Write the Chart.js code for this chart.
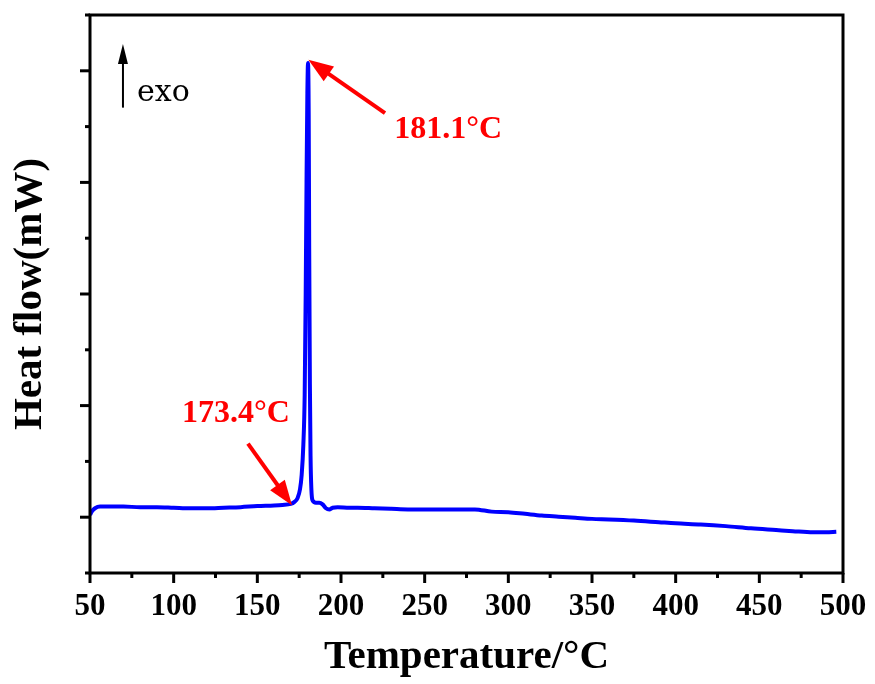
<!DOCTYPE html>
<html>
<head>
<meta charset="utf-8">
<script src="https://cdn.jsdelivr.net/npm/chart.js@4.4.1/dist/chart.umd.min.js"></script>
<style>
  html, body { margin: 0; padding: 0; background: #fff; }
  #wrap { width: 875px; height: 684px; }
</style>
</head>
<body>
<div id="wrap"><canvas id="c" width="875" height="684"></canvas></div>
<script>
// ---- Data ----
const temperature = [50, 51, 53, 56, 60, 70, 80, 90, 100, 110, 120, 130, 140, 150, 160, 165, 170, 172, 174, 175.5, 176.5, 177.5, 178.3, 178.9, 179.4, 179.9, 180.3, 180.7, 181.0, 181.4, 181.8, 182.3, 183, 185, 187, 189, 191, 193, 195, 198, 205, 210, 220, 230, 240, 250, 260, 270, 280, 290, 300, 310, 320, 330, 340, 350, 360, 375, 390, 400, 415, 430, 445, 460, 470, 482, 490, 496];
const heatFlow = [0.02, 0.05, 0.08, 0.095, 0.095, 0.095, 0.09, 0.09, 0.085, 0.08, 0.08, 0.085, 0.09, 0.10, 0.105, 0.11, 0.12, 0.135, 0.17, 0.25, 0.38, 0.65, 1.1, 2.0, 3.0, 3.8, 4.07, 3.6, 2.4, 1.2, 0.55, 0.25, 0.15, 0.13, 0.13, 0.115, 0.08, 0.07, 0.085, 0.09, 0.085, 0.085, 0.08, 0.075, 0.07, 0.07, 0.07, 0.07, 0.07, 0.05, 0.045, 0.03, 0.015, 0.005, -0.005, -0.015, -0.02, -0.03, -0.045, -0.055, -0.065, -0.08, -0.10, -0.115, -0.125, -0.135, -0.135, -0.13];

const xTickMin = 50, xTickMax = 500, xMajorStep = 50, xMinorStep = 25;
const yMin = -0.5, yMax = 4.5, yMinorStep = 0.5;

// annotations: [tailX, tailY, tipX, tipY] in data units, plus labels
const peakArrow = [226.3, 3.62, 180.5, 4.10];
const peakLabel = { text: '181.1°C', x: 231.8, y: 3.40 };
const onsetArrow = [144.4, 0.66, 170.7, 0.107];
const onsetLabel = { text: '173.4°C', x: 105, y: 0.85 };
const exoArrow = [69.7, 3.67, 69.7, 4.24];
const exoLabel = { text: 'exo', x: 78.1, y: 3.73 };

const points = temperature.map((t, i) => ({ x: t, y: heatFlow[i] }));

function drawArrow(ctx, x1, y1, x2, y2, color, lw, headLen, headHalf) {
  const ang = Math.atan2(y2 - y1, x2 - x1);
  const bx = x2 - headLen * Math.cos(ang), by = y2 - headLen * Math.sin(ang);
  ctx.strokeStyle = color; ctx.fillStyle = color; ctx.lineWidth = lw;
  ctx.beginPath(); ctx.moveTo(x1, y1); ctx.lineTo(bx + 2 * Math.cos(ang), by + 2 * Math.sin(ang)); ctx.stroke();
  ctx.beginPath();
  ctx.moveTo(x2, y2);
  ctx.lineTo(bx + headHalf * Math.sin(ang), by - headHalf * Math.cos(ang));
  ctx.lineTo(bx - headHalf * Math.sin(ang), by + headHalf * Math.cos(ang));
  ctx.closePath(); ctx.fill();
}

const framePlugin = {
  id: 'frameTicks',
  afterDraw(chart) {
    const { ctx, chartArea: a, scales: { x, y } } = chart;
    ctx.save();
    ctx.strokeStyle = '#000';
    ctx.lineWidth = 3;
    ctx.strokeRect(a.left, a.top, a.right - a.left, a.bottom - a.top);
    ctx.lineWidth = 3;
    x.ticks.forEach(t => {
      const px = x.getPixelForValue(t.value);
      const len = (Math.abs(t.value % xMajorStep) < 1e-6) ? 10 : 5;
      ctx.beginPath(); ctx.moveTo(px, a.bottom); ctx.lineTo(px, a.bottom + len); ctx.stroke();
    });
    y.ticks.forEach(t => {
      const py = y.getPixelForValue(t.value);
      const len = (Math.abs(t.value - Math.round(t.value)) < 1e-6) ? 10 : 5;
      ctx.beginPath(); ctx.moveTo(a.left - len, py); ctx.lineTo(a.left, py); ctx.stroke();
    });
    // annotations
    const P = (dx, dy) => [x.getPixelForValue(dx), y.getPixelForValue(dy)];
    let [t1x, t1y] = P(peakArrow[0], peakArrow[1]);
    let [h1x, h1y] = P(peakArrow[2], peakArrow[3]);
    drawArrow(ctx, t1x, t1y, h1x, h1y, '#FF0000', 4, 25, 9);
    let [t2x, t2y] = P(onsetArrow[0], onsetArrow[1]);
    let [h2x, h2y] = P(onsetArrow[2], onsetArrow[3]);
    drawArrow(ctx, t2x, t2y, h2x, h2y, '#FF0000', 4, 25, 9);
    let [t3x, t3y] = P(exoArrow[0], exoArrow[1]);
    let [h3x, h3y] = P(exoArrow[2], exoArrow[3]);
    drawArrow(ctx, t3x, t3y, h3x, h3y, '#000', 2, 20, 5);

    ctx.textAlign = 'left'; ctx.textBaseline = 'alphabetic';
    ctx.fillStyle = '#FF0000';
    ctx.font = 'bold 32px "Liberation Serif"';
    let [lx, ly] = P(peakLabel.x, peakLabel.y);
    ctx.fillText(peakLabel.text, lx, ly);
    [lx, ly] = P(onsetLabel.x, onsetLabel.y);
    ctx.fillText(onsetLabel.text, lx, ly);
    ctx.fillStyle = '#000';
    ctx.font = '30px "DejaVu Serif"';
    [lx, ly] = P(exoLabel.x, exoLabel.y);
    ctx.fillText(exoLabel.text, lx, ly);
    ctx.restore();
  }
};

new Chart(document.getElementById('c'), {
  type: 'line',
  data: {
    datasets: [{
      data: points,
      borderColor: '#0000FF',
      borderWidth: 4,
      pointRadius: 0,
      fill: false,
      cubicInterpolationMode: 'monotone'
    }]
  },
  options: {
    responsive: false,
    animation: false,
    layout: { padding: { left: 0, top: 15, right: 32, bottom: 0 } },
    plugins: { legend: { display: false }, tooltip: { enabled: false } },
    scales: {
      x: {
        type: 'linear',
        min: xTickMin, max: xTickMax,
        afterFit(s) { s.height = 111; },
        border: { display: false },
        grid: { display: false, drawTicks: true, tickLength: 10 },
        ticks: {
          stepSize: xMinorStep, autoSkip: false, maxRotation: 0, padding: 5,
          color: '#000',
          font: { family: '"Liberation Serif"', size: 31, weight: 'bold' },
          callback: v => (Math.abs(v % xMajorStep) < 1e-6 ? String(v) : '')
        },
        title: {
          display: true, text: 'Temperature/°C', color: '#000',
          font: { family: '"Liberation Serif"', size: 41, weight: 'bold' },
          padding: { top: 0, bottom: 2 }
        }
      },
      y: {
        type: 'linear',
        min: yMin, max: yMax,
        afterFit(s) { s.width = 90; },
        border: { display: false },
        grid: { display: false, drawTicks: false },
        ticks: { stepSize: yMinorStep, autoSkip: false, callback: () => '' },
        title: {
          display: true, text: 'Heat flow(mW)', color: '#000',
          font: { family: '"Liberation Serif"', size: 41, weight: 'bold' },
          padding: { top: 6, bottom: 0 }
        }
      }
    }
  },
  plugins: [framePlugin]
});
</script>
</body>
</html>
